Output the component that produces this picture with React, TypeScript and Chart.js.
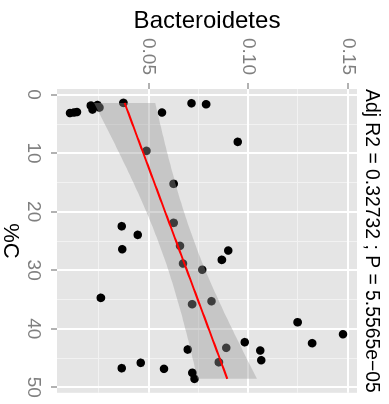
import { useEffect, useRef } from "react";
import { Chart, registerables } from "chart.js";

Chart.register(...registerables);

// Carbon content (%C) and Bacteroidetes relative abundance per sample
const pctC = [
  3.16, 3.07, 2.99, 1.88, 2.56, 1.79, 2.22, 1.42, 3.07, 1.49, 1.66, 9.62, 8.08,
  15.25, 21.92, 22.5, 23.97, 25.85, 26.43, 26.65, 28.24, 28.87, 29.93, 34.73,
  35.82, 35.31, 38.9, 40.95, 42.48, 42.31, 43.27, 43.56, 43.73, 45.39, 45.73,
  45.83, 46.75, 46.86, 47.54, 48.57,
];
const bacteroidetes = [
  0.0105, 0.0125, 0.014, 0.021, 0.0218, 0.0243, 0.0253, 0.0373, 0.0567, 0.0715,
  0.0788, 0.0489, 0.0947, 0.0625, 0.0625, 0.0365, 0.0445, 0.0657, 0.0367,
  0.0899, 0.0867, 0.0672, 0.0769, 0.026, 0.0718, 0.0815, 0.1247, 0.1475, 0.132,
  0.0982, 0.0889, 0.0696, 0.106, 0.1065, 0.0852, 0.046, 0.0365, 0.0577, 0.0719,
  0.073,
];

// Axis ticks
const pctCMajorTicks = [0, 10, 20, 30, 40, 50];
const pctCMinorTicks = [5, 15, 25, 35, 45];
const bactMajorTicks = [0.05, 0.1, 0.15];
const bactMajorLabels = ["0.05", "0.10", "0.15"];
const bactMinorTicks = [0.025, 0.075, 0.125];

// Axis limits
const pctCRange = [-0.95, 50.95];
const bactRange = [0.004, 0.1545];

const plotTitle = "Adj R2 = 0.32732 ; P = 5.5565e\u221205";
const xTitle = "%C";
const yTitle = "Bacteroidetes";

// Student t quantile (0.975) for n - 2 = 38 degrees of freedom
const T_CRIT = 2.0244;

const FONT = "'Liberation Sans', Arial, Helvetica, sans-serif";

function linearFit(xs: number[], ys: number[]) {
  const n = xs.length;
  const xbar = xs.reduce((a, b) => a + b, 0) / n;
  const ybar = ys.reduce((a, b) => a + b, 0) / n;
  let sxx = 0;
  let sxy = 0;
  for (let i = 0; i < n; i++) {
    sxx += (xs[i] - xbar) ** 2;
    sxy += (xs[i] - xbar) * (ys[i] - ybar);
  }
  const slope = sxy / sxx;
  const intercept = ybar - slope * xbar;
  let sse = 0;
  for (let i = 0; i < n; i++) sse += (ys[i] - (intercept + slope * xs[i])) ** 2;
  const s = Math.sqrt(sse / (n - 2));
  const predict = (x: number) => intercept + slope * x;
  const se = (x: number) => s * Math.sqrt(1 / n + (x - xbar) ** 2 / sxx);
  return { predict, se };
}

const panelBackground = {
  id: "panelBackground",
  beforeDraw(chart: any) {
    const { ctx, chartArea: a, scales } = chart;
    ctx.save();
    ctx.fillStyle = "#E5E5E5";
    ctx.fillRect(a.left, a.top, a.right - a.left, a.bottom - a.top);
    ctx.strokeStyle = "#F2F2F2";
    ctx.lineWidth = 1;
    ctx.beginPath();
    for (const v of pctCMinorTicks) {
      const px = Math.round(scales.x.getPixelForValue(v)) + 0.5;
      ctx.moveTo(px, a.top);
      ctx.lineTo(px, a.bottom);
    }
    for (const v of bactMinorTicks) {
      const py = Math.round(scales.y.getPixelForValue(v)) + 0.5;
      ctx.moveTo(a.left, py);
      ctx.lineTo(a.right, py);
    }
    ctx.stroke();
    ctx.restore();
  },
};

export default function App() {
  const ref = useRef<HTMLCanvasElement | null>(null);

  useEffect(() => {
    const canvas = ref.current;
    if (!canvas) return;

    const fit = linearFit(pctC, bacteroidetes);
    const cMin = Math.min(...pctC);
    const cMax = Math.max(...pctC);
    const steps = 80;
    const fitLine: { x: number; y: number }[] = [];
    const bandUpper: { x: number; y: number }[] = [];
    const bandLower: { x: number; y: number }[] = [];
    for (let i = 0; i <= steps; i++) {
      const x = cMin + ((cMax - cMin) * i) / steps;
      const y = fit.predict(x);
      const h = T_CRIT * fit.se(x);
      fitLine.push({ x, y });
      bandUpper.push({ x, y: y + h });
      bandLower.push({ x, y: y - h });
    }

    const points = pctC.map((c, i) => ({ x: c, y: bacteroidetes[i] }));

    const chart = new Chart(canvas, {
      type: "scatter",
      data: {
        datasets: [
          {
            label: "fit",
            data: fitLine,
            showLine: true,
            borderColor: "#FF0000",
            borderWidth: 2,
            pointRadius: 0,
            fill: false,
            order: 0,
          } as any,
          {
            label: "upper",
            data: bandUpper,
            showLine: true,
            borderWidth: 0,
            borderColor: "rgba(0,0,0,0)",
            backgroundColor: "rgba(153,153,153,0.4)",
            pointRadius: 0,
            fill: "+1",
            order: 1,
          } as any,
          {
            label: "lower",
            data: bandLower,
            showLine: true,
            borderWidth: 0,
            borderColor: "rgba(0,0,0,0)",
            pointRadius: 0,
            fill: false,
            order: 1,
          } as any,
          {
            label: "samples",
            data: points,
            backgroundColor: "#000000",
            borderWidth: 0,
            pointRadius: 4.3,
            pointHoverRadius: 4.3,
            order: 2,
          } as any,
        ],
      },
      options: {
        animation: false,
        responsive: false,
        devicePixelRatio: 1,
        layout: { padding: { left: 0, right: 11, top: 0, bottom: 0 } },
        plugins: {
          legend: { display: false },
          tooltip: { enabled: false },
          title: {
            display: true,
            text: plotTitle,
            fullSize: false,
            color: "#000000",
            font: { family: FONT, size: 20, weight: "normal", lineHeight: 1.2 },
            padding: { top: 5, bottom: 3 },
          },
        },
        scales: {
          x: {
            type: "linear",
            position: "bottom",
            min: pctCRange[0],
            max: pctCRange[1],
            afterBuildTicks: (scale: any) => {
              scale.ticks = pctCMajorTicks.map((v) => ({ value: v }));
            },
            afterFit: (scale: any) => {
              scale.height = 57;
            },
            border: { display: false },
            grid: {
              color: "#FFFFFF",
              lineWidth: 2,
              drawTicks: true,
              tickLength: 6,
              tickColor: "#7F7F7F",
              tickWidth: 1.2,
            },
            ticks: {
              autoSkip: false,
              maxRotation: 0,
              minRotation: 0,
              padding: 6,
              color: "#7F7F7F",
              font: { family: FONT, size: 19 },
              callback: (v: any) => String(v),
            },
            title: {
              display: true,
              text: xTitle,
              color: "#000000",
              font: { family: FONT, size: 22, lineHeight: 1 },
              padding: { top: 0, bottom: -1 },
            },
          },
          y: {
            type: "linear",
            position: "left",
            min: bactRange[0],
            max: bactRange[1],
            afterBuildTicks: (scale: any) => {
              scale.ticks = bactMajorTicks.map((v) => ({ value: v }));
            },
            afterFit: (scale: any) => {
              scale.width = 89;
            },
            border: { display: false },
            grid: {
              color: "#FFFFFF",
              lineWidth: 2,
              drawTicks: true,
              tickLength: 6,
              tickColor: "#7F7F7F",
              tickWidth: 1.2,
            },
            ticks: {
              autoSkip: false,
              padding: 8,
              color: "#7F7F7F",
              font: { family: FONT, size: 19 },
              callback: (v: any) => {
                const i = bactMajorTicks.findIndex((t) => Math.abs(t - v) < 1e-9);
                return i >= 0 ? bactMajorLabels[i] : "";
              },
            },
            title: {
              display: true,
              text: yTitle,
              color: "#000000",
              font: { family: FONT, size: 24, lineHeight: 1 },
              padding: { top: 9.5, bottom: 0 },
            },
          },
        },
      } as any,
      plugins: [panelBackground],
    });

    return () => chart.destroy();
  }, []);

  return (
    <div
      style={{
        position: "fixed",
        left: 0,
        top: 0,
        width: 404,
        height: 389,
        background: "#FFFFFF",
        transformOrigin: "0 0",
        transform: "translate(389px, 0px) rotate(90deg)",
      }}
    >
      <canvas
        ref={ref}
        width={404}
        height={389}
        style={{ display: "block", width: 404, height: 389 }}
      />
    </div>
  );
}
